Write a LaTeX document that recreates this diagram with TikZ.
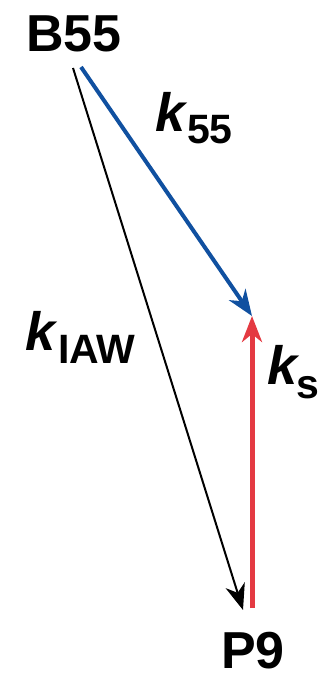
\documentclass[tikz,border=0pt]{standalone}
\usepackage{fontspec}
\setmainfont{Liberation Sans}
\usetikzlibrary{arrows.meta}
\definecolor{kblue}{RGB}{16,80,160}
\definecolor{kred}{RGB}{228,58,66}
\begin{document}
\begin{tikzpicture}[x=1pt,y=-1pt,
  lbl/.style={inner sep=0pt,font=\bfseries\fontsize{52}{52}\selectfont},
  klbl/.style={inner sep=0pt,font=\bfseries\itshape\fontsize{54}{54}\selectfont},
  sub/.style={inner sep=0pt,font=\bfseries\fontsize{41}{41}\selectfont},
  tip/.style={-{Stealth[length=26pt,width=20pt,inset=8pt]}}]
\useasboundingbox (0,0) rectangle (320,679);
\node[lbl,anchor=base west] (B) at (26,52) {B55};
\node[lbl,anchor=base west] (P) at (221,668) {P9};
\coordinate (bs) at (73,68);
\coordinate (bb) at (81,67);
\coordinate (t1) at (252,316);
\coordinate (pe) at (243,610);
\coordinate (rs) at (252,608);
\node[klbl,anchor=base west] (k1) at (155,132) {k};
\node[sub,anchor=base west] (s1) at (187,144) {55};
\node[klbl,anchor=base west] (k2) at (25,350) {k};
\node[sub,anchor=base west] (s2) at (58,363) {IAW};
\node[klbl,anchor=base west] (k3) at (267,384) {k};
\node[sub,anchor=base west] (s3) at (296,398) {s};
\draw[line width=2pt,tip] (bs) -- (pe);
\draw[line width=4pt,kblue,tip] (bb) -- (t1);
\draw[line width=5pt,kred,tip] (rs) -- (t1);
\end{tikzpicture}
\end{document}
